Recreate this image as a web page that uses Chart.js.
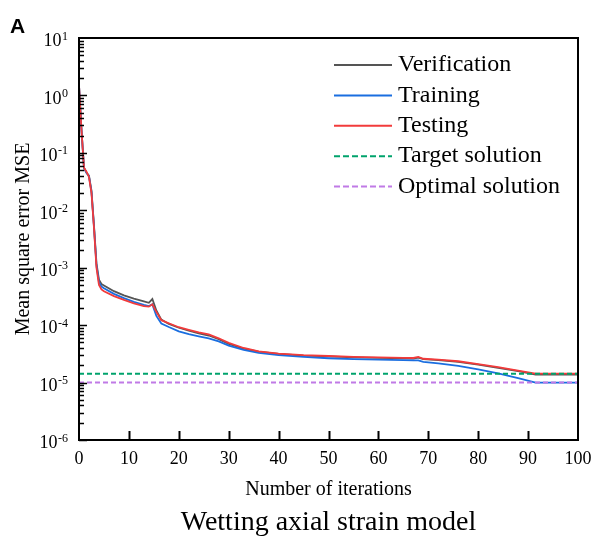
<!DOCTYPE html>
<html>
<head>
<meta charset="utf-8">
<script src="https://cdn.jsdelivr.net/npm/chart.js@4"></script>
<style>
  html, body { margin: 0; padding: 0; background: #fff; }
  #wrap { position: relative; width: 593px; height: 547px; }
</style>
</head>
<body>
<div id="wrap"><canvas id="mseChart" width="593" height="547"></canvas></div>
<script>
const iterations = [0, 0.5, 1, 1.5, 2, 2.5, 3, 3.5, 4, 4.5, 5, 7, 9, 11, 13, 14, 14.7, 15.5, 16.5, 18,
  20, 22, 24, 26, 28, 30, 33, 36, 40, 45, 50, 55, 60, 65, 67, 68, 69, 72, 76, 80, 84, 88, 91.5, 95, 100];

const verification = [1.5, 0.25, 0.055, 0.045, 0.04, 0.022, 5.5e-3, 1.2e-3, 6.2e-4, 5.2e-4, 4.9e-4, 3.9e-4, 3.3e-4, 2.9e-4, 2.6e-4, 2.45e-4, 2.85e-4, 1.8e-4, 1.25e-4, 1.05e-4,
  9.0e-5, 8.0e-5, 7.2e-5, 6.6e-5, 5.7e-5, 4.7e-5, 3.9e-5, 3.45e-5, 3.15e-5, 2.95e-5, 2.85e-5, 2.75e-5, 2.7e-5, 2.65e-5, 2.62e-5, 2.72e-5, 2.55e-5, 2.45e-5, 2.3e-5, 2.05e-5, 1.8e-5, 1.58e-5, 1.38e-5, 1.38e-5, 1.38e-5];

const training = [1.5, 0.25, 0.054, 0.045, 0.039, 0.021, 5.2e-3, 1.1e-3, 5.6e-4, 4.7e-4, 4.4e-4, 3.5e-4, 2.95e-4, 2.55e-4, 2.25e-4, 2.15e-4, 2.3e-4, 1.45e-4, 1.07e-4, 9.3e-5,
  7.8e-5, 7.0e-5, 6.4e-5, 5.9e-5, 5.2e-5, 4.4e-5, 3.7e-5, 3.3e-5, 3.0e-5, 2.8e-5, 2.65e-5, 2.55e-5, 2.5e-5, 2.45e-5, 2.43e-5, 2.43e-5, 2.3e-5, 2.15e-5, 1.95e-5, 1.7e-5, 1.45e-5, 1.2e-5, 1.0e-5, 1.0e-5, 1.0e-5];

const testing = [1.5, 0.25, 0.055, 0.047, 0.038, 0.02, 5.0e-3, 1.0e-3, 5.0e-4, 4.2e-4, 3.9e-4, 3.2e-4, 2.75e-4, 2.4e-4, 2.15e-4, 2.1e-4, 2.3e-4, 1.7e-4, 1.22e-4, 1.08e-4,
  9.2e-5, 8.3e-5, 7.5e-5, 6.9e-5, 5.9e-5, 4.9e-5, 4.0e-5, 3.5e-5, 3.2e-5, 3.0e-5, 2.9e-5, 2.8e-5, 2.75e-5, 2.7e-5, 2.68e-5, 2.8e-5, 2.6e-5, 2.5e-5, 2.35e-5, 2.1e-5, 1.85e-5, 1.62e-5, 1.43e-5, 1.43e-5, 1.43e-5];

const targetMSE = 1.43e-5;
const optimalMSE = 1.0e-5;
const lineEnds = [0, 100];

const yMajorTicks = [1e1, 1e0, 1e-1, 1e-2, 1e-3, 1e-4, 1e-5, 1e-6];
const yExponents = ['1', '0', '-1', '-2', '-3', '-4', '-5', '-6'];
const xTickStep = 10;

const serif = "'Liberation Serif', 'Times New Roman', serif";

const toPoints = (xs, ys) => xs.map((x, i) => ({ x: x, y: ys[i] }));
const flat = (v) => lineEnds.map(x => ({ x: x, y: v }));

// frame, inward ticks, superscript y labels, legend and panel letter
const decorations = {
  id: 'decorations',
  afterDraw(chart) {
    const c = chart.ctx;
    const area = chart.chartArea;
    const xs = chart.scales.x;
    const ys = chart.scales.y;
    c.save();
    c.strokeStyle = '#000';
    c.lineWidth = 2;
    c.strokeRect(area.left, area.top, area.right - area.left, area.bottom - area.top);

    // y ticks: major + minor, pointing inward
    c.beginPath();
    for (let d = -6; d <= 0; d++) {
      for (let k = 1; k <= 9; k++) {
        const py = Math.round(ys.getPixelForValue(k * Math.pow(10, d))) + 0.5;
        const len = k === 1 ? 8 : 5;
        c.moveTo(area.left, py);
        c.lineTo(area.left + len, py);
      }
    }
    c.lineWidth = 1.6;
    c.stroke();

    // x ticks
    c.beginPath();
    xs.ticks.forEach(t => {
      if (t.value <= xs.min || t.value >= xs.max) return;
      const px = Math.round(xs.getPixelForValue(t.value)) + 0.5;
      c.moveTo(px, area.bottom);
      c.lineTo(px, area.bottom - 9);
    });
    c.lineWidth = 2;
    c.stroke();

    // y labels 10^n
    c.fillStyle = '#000';
    c.textAlign = 'right';
    c.textBaseline = 'alphabetic';
    yMajorTicks.forEach((v, i) => {
      const py = ys.getPixelForValue(v);
      const xr = area.left - 11;
      c.font = '12px ' + serif;
      c.fillText(yExponents[i], xr, py + 1.5);
      const w = c.measureText(yExponents[i]).width;
      c.font = '18px ' + serif;
      c.fillText('10', xr - w - 0.5, py + 8.3);
    });

    // legend
    c.textAlign = 'left';
    c.textBaseline = 'middle';
    c.font = '24px ' + serif;
    chart.data.datasets.forEach((ds, i) => {
      const ly = area.top + 27 + i * 30.4;
      const x0 = area.right - 244;
      c.beginPath();
      c.strokeStyle = ds.borderColor;
      c.lineWidth = 2;
      c.setLineDash(ds.borderDash ? [6, 3] : []);
      c.moveTo(x0, ly);
      c.lineTo(x0 + 58, ly);
      c.stroke();
      c.setLineDash([]);
      c.fillText(ds.label, x0 + 64, ly);
    });

    // panel letter
    c.font = "bold 21px 'Liberation Sans', Arial, sans-serif";
    c.textBaseline = 'alphabetic';
    c.fillText('A', 10, 33);
    c.restore();
  }
};

const ctx = document.getElementById('mseChart').getContext('2d');

new Chart(ctx, {
  type: 'line',
  data: {
    datasets: [
      {
        label: 'Verification',
        data: toPoints(iterations, verification),
        borderColor: '#555555',
        borderWidth: 1.8,
        order: 5
      },
      {
        label: 'Training',
        data: toPoints(iterations, training),
        borderColor: '#1a6ee0',
        borderWidth: 1.8,
        order: 4
      },
      {
        label: 'Testing',
        data: toPoints(iterations, testing),
        borderColor: '#f23b3b',
        borderWidth: 1.8,
        order: 3
      },
      {
        label: 'Target solution',
        data: flat(targetMSE),
        borderColor: '#00a36c',
        borderWidth: 2,
        borderDash: [5, 3],
        order: 2
      },
      {
        label: 'Optimal solution',
        data: flat(optimalMSE),
        borderColor: '#c07ae6',
        borderWidth: 2,
        borderDash: [5, 3],
        order: 1
      }
    ]
  },
  options: {
    responsive: false,
    animation: false,
    devicePixelRatio: 1,
    elements: {
      point: { radius: 0 },
      line: { tension: 0, fill: false }
    },
    layout: {
      padding: { top: 38, right: 15, bottom: 0, left: 0 }
    },
    plugins: {
      legend: { display: false },
      tooltip: { enabled: false },
      title: {
        display: true,
        position: 'bottom',
        fullSize: false,
        text: 'Wetting axial strain model',
        color: '#000',
        font: { family: serif, size: 28, weight: 'normal' },
        padding: { top: 0, bottom: 7.7 }
      }
    },
    scales: {
      x: {
        type: 'linear',
        min: 0,
        max: 100,
        ticks: {
          stepSize: xTickStep,
          color: '#000',
          padding: 8,
          maxRotation: 0,
          font: { family: serif, size: 18 }
        },
        grid: { display: false, drawTicks: false },
        border: { display: false },
        title: {
          display: true,
          text: 'Number of iterations',
          color: '#000',
          font: { family: serif, size: 20 },
          padding: { top: 0, bottom: 4 }
        },
        afterFit: (s) => {
          s.height = 65.7;
          s.paddingLeft = 0;
          s.paddingRight = 0;
        }
      },
      y: {
        type: 'logarithmic',
        min: 1e-6,
        max: 1e1,
        ticks: { display: false },
        grid: { display: false, drawTicks: false },
        border: { display: false },
        title: {
          display: true,
          text: 'Mean square error MSE',
          color: '#000',
          font: { family: serif, size: 20 },
          padding: { top: 12, bottom: 0 }
        },
        afterFit: (s) => {
          s.width = 79;
          s.paddingTop = 0;
          s.paddingBottom = 0;
        }
      }
    }
  },
  plugins: [decorations]
});
</script>
</body>
</html>
